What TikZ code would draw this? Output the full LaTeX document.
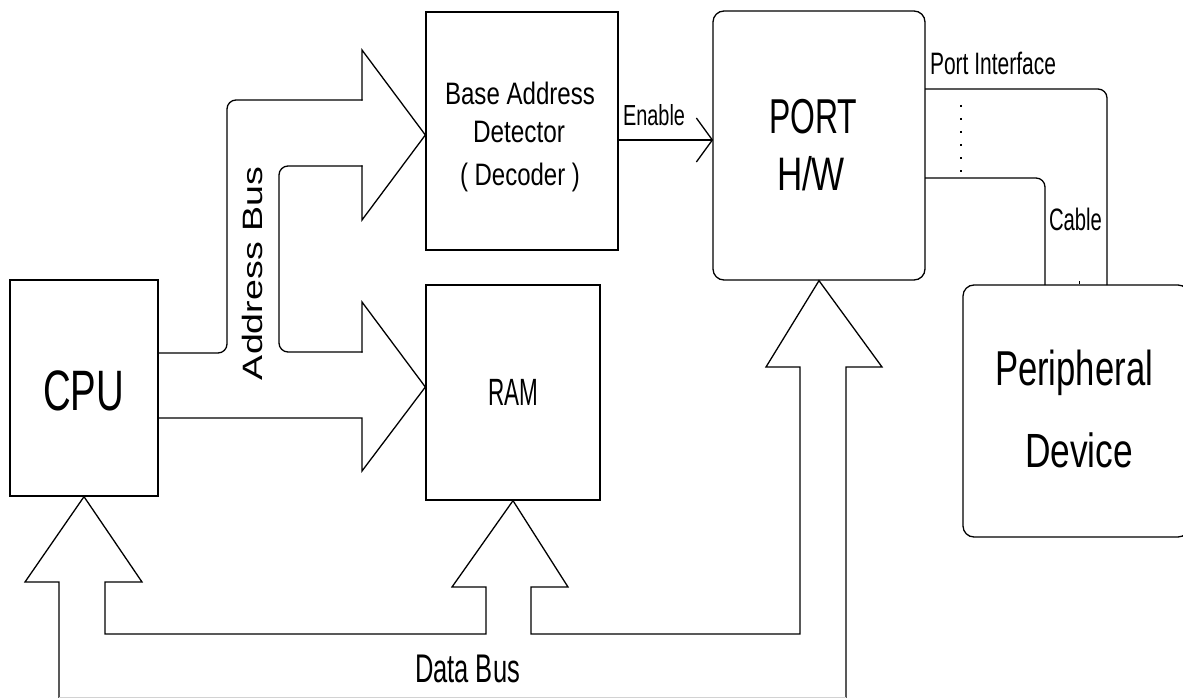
\documentclass[tikz,border=0pt]{standalone}
\usepackage{fontspec}
\setmainfont{Liberation Sans}
\usepackage{graphicx}
% text of a given size squeezed to a given width, height kept
\newcommand\fittext[3]{\resizebox{#2pt}{\height}{\fontsize{#1pt}{#1pt}\selectfont #3}}

\tikzset{
  block/.style={draw, line width=1.3pt, inner sep=0pt},
  rblock/.style={block, rounded corners=11pt},
  lbl/.style={anchor=base, inner sep=0pt, outer sep=0pt},
  bus/.style={draw, line width=1.3pt, line join=miter, line cap=rect},
  rbus/.style={bus, rounded corners=9pt},
}

\begin{document}
\begin{tikzpicture}[x=1pt, y=-1pt]
\useasboundingbox (0,0) rectangle (1183,698);
\clip (0,0) rectangle (1183,698);

% ---- blocks ----
\node[block, minimum width=148pt, minimum height=216pt] (cpu) at (84,388) {};
\node[block, minimum width=192pt, minimum height=238pt] (bad) at (522,131) {};
\node[block, minimum width=174pt, minimum height=215pt] (ram) at (513,392.5) {};
\node[rblock, minimum width=212pt, minimum height=269pt] (port) at (819,145.5) {};
\node[rblock, minimum width=226pt, minimum height=252pt] (dev) at (1076,411) {};

% ---- block texts ----
\node[lbl] (tcpu) at (83.5,410) {\fittext{57}{81}{CPU}};
\node[lbl] (tbad1) at (520,105) {\fittext{31}{150}{Base Address}};
\node[lbl] (tbad2) at (519,143) {\fittext{31}{92}{Detector}};
\node[lbl] (tbad3) at (520,185) {\fittext{31}{120}{( Decoder )}};
\node[lbl] (tram) at (513,405) {\fittext{38}{50}{RAM}};
\node[lbl] (tport1) at (813,133) {\fittext{49}{88}{PORT}};
\node[lbl] (tport2) at (811,190) {\fittext{47}{68}{H/W}};
\node[lbl] (tdev1) at (1074,385) {\fittext{49}{158}{Peripheral}};
\node[lbl] (tdev2) at (1079,467) {\fittext{48}{108}{Device}};

% ---- connector labels ----
\node[lbl] (tenable) at (654,126) {\fittext{29}{62}{Enable}};
\node[lbl] (tpif) at (993,75) {\fittext{31}{126}{Port Interface}};
\node[lbl] (tcable) at (1075.5,230) {\fittext{31}{53}{Cable}};
\node[lbl] (tdata) at (467.5,682) {\fittext{40}{105}{Data Bus}};
\node[lbl, rotate=90] (taddr) at (262,273.5) {\fittext{28}{213}{Address Bus}};

% ---- address bus: CPU -> decoder and CPU -> RAM ----
\path[rbus] (cpu.east |- 0,353) -- (227,353) -- (227,100) -- (362,100);
\path[bus] (362,100) -- (362,50) -- (bad.west |- 0,135) -- (362,220) -- (362,166);
\path[rbus] (362,166) -- (279,166) -- (279,352) -- (362,352);
\path[bus] (362,352) -- (362,302) -- (ram.west |- 0,387) -- (362,471) -- (362,418)
  -- (cpu.east |- 0,418);

% ---- data bus: CPU, RAM and port ----
\path[bus] (59,698) -- (59,582) -- (25,582) -- (cpu.south) -- (142,582) -- (105,582)
  -- (105,634) -- (486,634) -- (486,587) -- (452,587) -- (ram.south) -- (568,587)
  -- (531,587) -- (531,634) -- (800,634) -- (800,367) -- (766,367) -- (port.south)
  -- (882,367) -- (846,367) -- (846,698);
\draw[gray!35, line width=1pt] (59,697.3) -- (846,697.3);

% ---- enable line ----
\coordinate (en) at (port.west |- 0,140);
\draw[line width=1.3pt] (bad.east |- 0,140) -- (en);
\draw[line width=1.3pt] (en) ++(-16,-22) -- (en) -- +(-16,22);

% ---- port interface cable ----
\path[rbus] (port.east |- 0,89) -- (1107,89) -- (dev.north -| 1107,0);
\path[rbus] (port.east |- 0,178) -- (1045,178) -- (dev.north -| 1045,0);
\draw[line width=1.8pt, dash pattern=on 1.8pt off 11.2pt] (961,105) -- (961,172);
\draw[line width=1pt] (1079,281) -- (dev.north -| 1079,0);
\end{tikzpicture}
\end{document}
